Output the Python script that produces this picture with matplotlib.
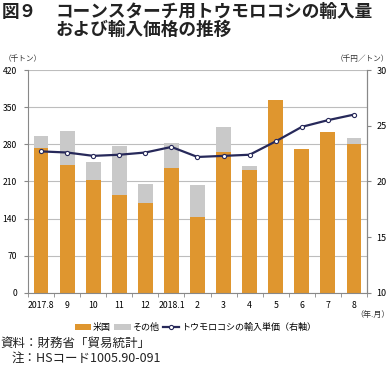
import matplotlib
matplotlib.use("Agg")
import matplotlib.pyplot as plt
import numpy as np

plt.rcParams['font.family'] = ['Noto Sans CJK JP', 'DejaVu Sans']

months = ['2017.8', '9', '10', '11', '12', '2018.1', '2', '3', '4', '5', '6', '7', '8']
us_vol = [274, 241, 213, 185, 170, 236, 144, 266, 231, 364, 272, 303, 281]
other_vol = [21, 64, 33, 91, 36, 47, 60, 46, 8, 0, 0, 0, 11]
unit_price = [22.7, 22.6, 22.3, 22.4, 22.6, 23.1, 22.2, 22.3, 22.4, 23.6, 24.9, 25.5, 26.0]

ORANGE = '#DF962F'
GREY = '#C9C9C9'
NAVY = '#27295A'

fig = plt.figure(figsize=(3.91, 3.66), dpi=100)
ax = fig.add_axes([0.0716, 0.1995, 0.8670, 0.6092])
x = np.arange(len(months))

ax.bar(x, us_vol, width=0.57, color=ORANGE, zorder=2, label='米国')
ax.bar(x, other_vol, width=0.57, bottom=us_vol, color=GREY, zorder=2, label='その他')
ax.set_ylim(0, 420)
ax.set_yticks(range(0, 421, 70))
ax.set_xlim(-0.5, len(months) - 0.5)
ax.set_xticks(x)
ax.set_xticklabels(months)
ax.set_xticks(np.arange(-0.5, len(months), 1), minor=True)
ax.tick_params(axis='x', which='major', length=0, pad=6, labelsize=6.3)
ax.tick_params(axis='x', which='minor', length=3, color='#888888')
ax.tick_params(axis='y', length=3, color='#888888', labelsize=6.2, pad=5)
ax.grid(axis='y', color='#BDBDBD', linewidth=0.8, zorder=0)
ax.spines['top'].set_visible(False)
for s in ['left', 'right', 'bottom']:
    ax.spines[s].set_color('#888888')
    ax.spines[s].set_linewidth(0.8)

ax2 = ax.twinx()
ax2.plot(x, unit_price, color=NAVY, linewidth=1.6, marker='o', markersize=3,
         markerfacecolor='white', markeredgecolor=NAVY, markeredgewidth=0.8,
         zorder=3, label='トウモロコシの輸入単価（右軸）')
ax2.set_ylim(10, 30)
ax2.set_yticks([10, 15, 20, 25, 30])
ax2.tick_params(axis='y', length=3, color='#888888', labelsize=6.5, pad=4)
for s in ['top', 'left', 'bottom']:
    ax2.spines[s].set_visible(False)
ax2.spines['right'].set_color('#888888')

# title and notes
fig.text(0.005, 0.992, '図９', fontsize=12.7, fontweight='bold', va='top', ha='left', color='#222222')
fig.text(0.141, 0.992, 'コーンスターチ用トウモロコシの輸入量\nおよび輸入価格の推移', fontsize=12.7,
         fontweight='bold', va='top', ha='left', linespacing=1.0, color='#222222')
fig.text(0.01, 0.838, '（千トン）', fontsize=5.5, ha='left', va='center', color='#333333')
fig.text(0.995, 0.838, '（千円／トン）', fontsize=5.5, ha='right', va='center', color='#333333')
fig.text(0.998, 0.142, '（年.月）', fontsize=5.8, ha='right', va='center', color='#333333')

h1, l1 = ax.get_legend_handles_labels()
h2, l2 = ax2.get_legend_handles_labels()
fig.legend(h1 + h2, l1 + l2, loc='center', bbox_to_anchor=(0.5, 0.105), ncol=3, frameon=False,
           fontsize=6.5, handlelength=1.8, handletextpad=0.2, columnspacing=0.4)

fig.text(0.0, 0.062, '資料：財務省「貿易統計」', fontsize=9, ha='left', va='center', color='#222222')
fig.text(0.03, 0.02, '注：HSコード1005.90-091', fontsize=9, ha='left', va='center', color='#222222')

fig.savefig('out.png', dpi=100)
